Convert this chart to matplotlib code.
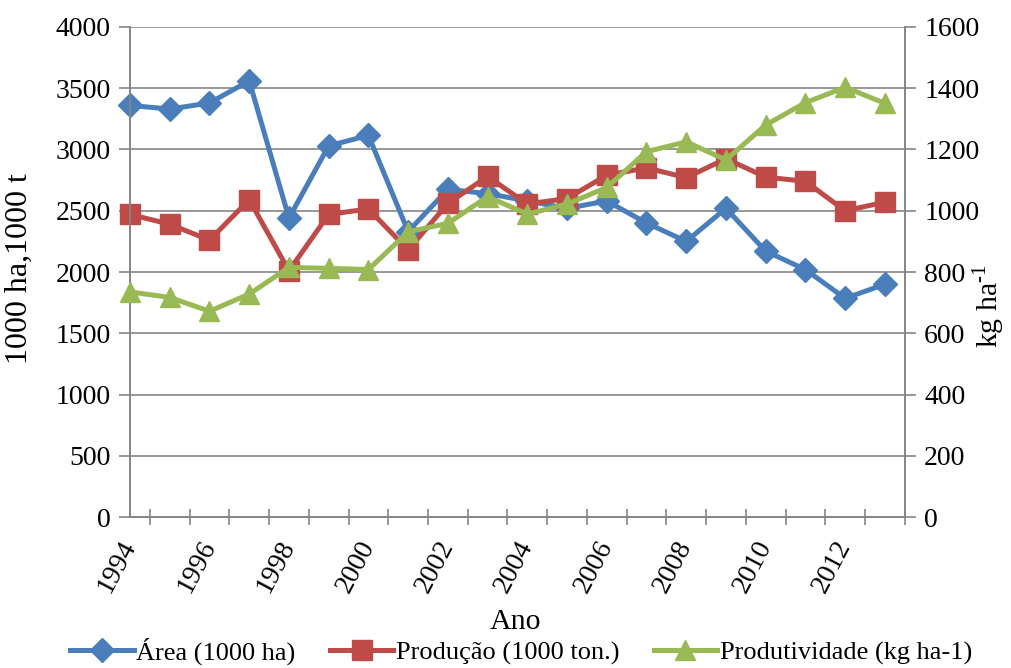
import matplotlib
matplotlib.use("Agg")
import matplotlib.pyplot as plt
import numpy as np
from matplotlib.ticker import FixedLocator, MultipleLocator

plt.rcParams['font.family'] = ['Liberation Serif', 'DejaVu Serif']
plt.rcParams['mathtext.fontset'] = 'custom'
plt.rcParams['mathtext.rm'] = 'Liberation Serif'
plt.rcParams['font.size'] = 20

# data
anos = list(range(1994, 2014))
area = [3360, 3330, 3380, 3560, 2440, 3030, 3115, 2330, 2675, 2640,
        2580, 2520, 2580, 2400, 2250, 2520, 2170, 2020, 1785, 1900]
producao = [2470, 2390, 2260, 2590, 2010, 2470, 2515, 2180, 2560, 2780,
            2555, 2600, 2790, 2850, 2770, 2925, 2775, 2740, 2500, 2570]
produtividade = [735, 717, 672, 728, 815, 812, 808, 931, 959, 1046,
                 989, 1022, 1076, 1193, 1225, 1166, 1280, 1353, 1403, 1351]

blue = '#4A7EBB'
red = '#BE4B48'
green = '#98B954'
grid_gray = '#868686'

fig = plt.figure(figsize=(10.12, 6.68), dpi=100)
ax = fig.add_axes([0.1285, 0.226, 0.7655, 0.7336])
ax2 = ax.twinx()

x = np.arange(len(anos))

l1, = ax.plot(x, area, color=blue, lw=3.6, marker='D', ms=12.5, clip_on=False, zorder=3,
              label='Área (1000 ha)')
l2, = ax.plot(x, producao, color=red, lw=3.6, marker='s', ms=14, clip_on=False, zorder=3,
              label='Produção (1000 ton.)')
l3, = ax2.plot(x, produtividade, color=green, lw=3.6, marker='^', ms=15, clip_on=False, zorder=3,
               label='Produtividade (kg ha-1)')

ax.set_xlim(0, 19.5)
ax.set_ylim(0, 4000)
ax2.set_ylim(0, 1600)
ax.yaxis.set_major_locator(MultipleLocator(500))
ax2.yaxis.set_major_locator(MultipleLocator(200))

# x axis: labels every two years, tick marks between categories
ax.set_xticks(x[::2])
ax.set_xticklabels([str(a) for a in anos[::2]], rotation=62, ha='right', va='center',
                   rotation_mode='anchor')
ax.xaxis.set_minor_locator(FixedLocator(np.arange(0.5, 19.6, 1.0)))
ax.tick_params(axis='x', which='major', length=0, pad=18)
ax.tick_params(axis='x', which='minor', length=11, direction='inout', color=grid_gray, width=1.2)

ax.tick_params(axis='y', length=8, color=grid_gray, width=1.2, pad=6)
ax2.tick_params(axis='y', length=8, color=grid_gray, width=1.2, pad=6)

ax.grid(axis='y', color=grid_gray, lw=1.2, zorder=0)
ax.set_axisbelow(True)

for a in (ax, ax2):
    a.spines['top'].set_visible(False)
    for s in ('left', 'right', 'bottom'):
        a.spines[s].set_color(grid_gray)
        a.spines[s].set_linewidth(1.2)

ax.set_xlabel('Ano', fontsize=21.5, va='center')
ax.xaxis.set_label_coords(0.498, -0.214)
ax.set_ylabel('1000 ha,1000 t', fontsize=23, va='center')
ax.yaxis.set_label_coords(-0.143, 0.508)
ax2.set_ylabel('kg ha$^{\\text{-}1}$', fontsize=21.5, va='center', rotation=90)
ax2.yaxis.set_label_coords(1.108, 0.43)

fig.legend(handles=[l1, l2, l3], loc='center', bbox_to_anchor=(0.515, 0.025), ncol=3,
           frameon=False, handlelength=2.4, handletextpad=0.1, columnspacing=1.3,
           borderaxespad=0, fontsize=19)

fig.savefig('out.png', dpi=100)
